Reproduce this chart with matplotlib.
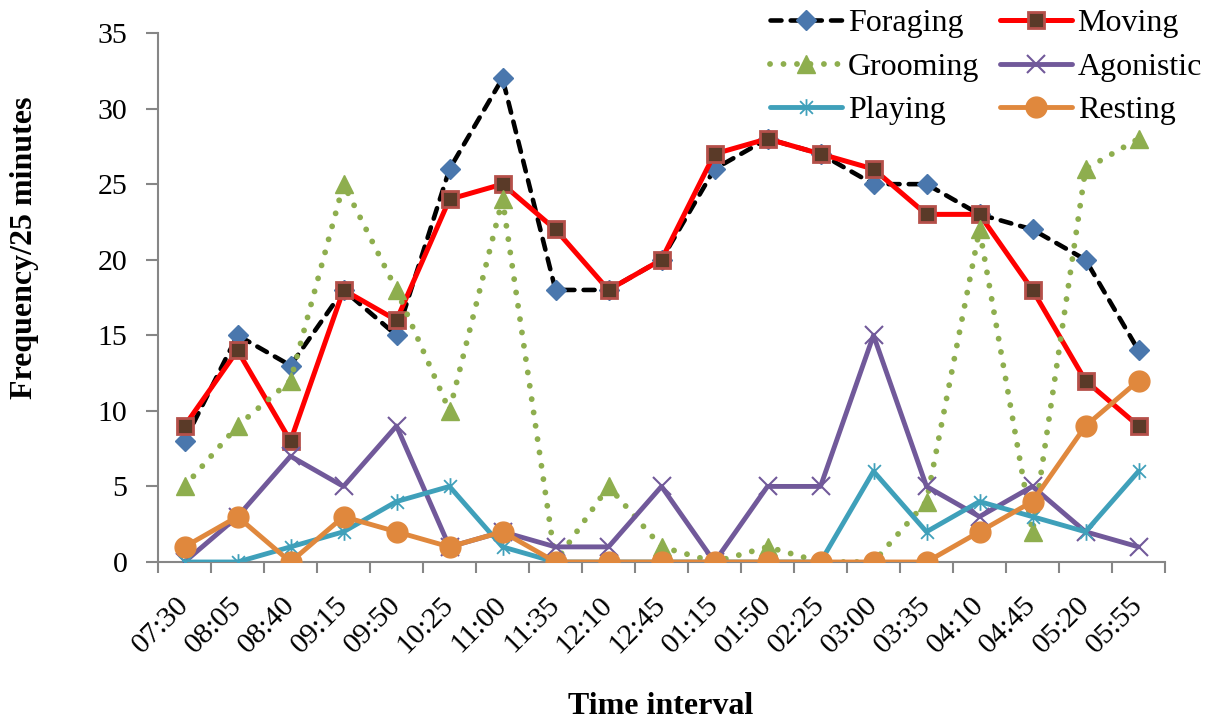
import matplotlib
matplotlib.use("Agg")
import matplotlib.pyplot as plt
from matplotlib.path import Path
from matplotlib.ticker import FixedLocator
from matplotlib.transforms import ScaledTranslation

times = ["07:30", "08:05", "08:40", "09:15", "09:50", "10:25", "11:00", "11:35", "12:10",
         "12:45", "01:15", "01:50", "02:25", "03:00", "03:35", "04:10", "04:45", "05:20", "05:55"]
foraging = [8, 15, 13, 18, 15, 26, 32, 18, 18, 20, 26, 28, 27, 25, 25, 23, 22, 20, 14]
moving = [9, 14, 8, 18, 16, 24, 25, 22, 18, 20, 27, 28, 27, 26, 23, 23, 18, 12, 9]
grooming = [5, 9, 12, 25, 18, 10, 24, 0, 5, 1, 0, 1, 0, 0, 4, 22, 2, 26, 28]
agonistic = [0, 3, 7, 5, 9, 1, 2, 1, 1, 5, 0, 5, 5, 15, 5, 3, 5, 2, 1]
playing = [0, 0, 1, 2, 4, 5, 1, 0, 0, 0, 0, 0, 0, 6, 2, 4, 3, 2, 6]
resting = [1, 3, 0, 3, 2, 1, 2, 0, 0, 0, 0, 0, 0, 0, 0, 2, 4, 9, 12]
yticks = [0, 5, 10, 15, 20, 25, 30, 35]

plt.rcParams['font.family'] = ['Liberation Serif', 'DejaVu Serif']
FS_TICK = 21.5
FS_LEG = 23
FS_LAB = 23

fig = plt.figure(figsize=(12.11, 7.21), dpi=100)
ax = fig.add_axes([158 / 1211, 1 - 562 / 721, (1165 - 158) / 1211, (562 - 33) / 721])

x = list(range(len(times)))

star = Path([(-1, -1), (1, 1), (-1, 1), (1, -1), (0, -1.3), (0, 1.3)],
            [Path.MOVETO, Path.LINETO, Path.MOVETO, Path.LINETO, Path.MOVETO, Path.LINETO])

blue = '#4A77AD'
green = '#8EAE4E'
purple = '#71599A'
teal = '#3FA0BA'
orange = '#E0883D'

l_for, = ax.plot(x, foraging, color='black', lw=3.3, marker='D', ms=10.5, mfc=blue, mec=blue,
                 dashes=(2.4, 2.0), dash_capstyle='round', label='Foraging', zorder=3)
l_mov, = ax.plot(x, moving, color='#FF0000', lw=3.6, marker='s', ms=11, mfc='#5A3A28', mec='#B5504A',
                 mew=2, label='Moving', zorder=4, solid_capstyle='round')
l_groom, = ax.plot(x, grooming, color=green, lw=4.2, marker='^', ms=13, mfc=green, mec=green,
                   dashes=(0.01, 2.3), dash_capstyle='round', label='Grooming', zorder=5)
l_ago, = ax.plot(x, agonistic, color=purple, lw=3.5, marker='x', ms=13, mec=purple, mew=1.5,
                 label='Agonistic', zorder=6, solid_capstyle='round')
l_play, = ax.plot(x, playing, color=teal, lw=3.5, marker=star, ms=12, mfc='none', mec=teal, mew=1.3,
                  label='Playing', zorder=7, solid_capstyle='round')
l_rest, = ax.plot(x, resting, color=orange, lw=3.5, marker='o', ms=15, mfc=orange, mec=orange,
                  label='Resting', zorder=8, solid_capstyle='round')

ax.set_xlim(-0.5, len(times) - 0.5)
ax.set_ylim(0, 35)
ax.set_yticks(yticks)
ax.set_xticks(x)
ax.set_xticklabels(times, rotation=45, ha='right', va='center', rotation_mode='anchor', fontsize=FS_TICK)
off = ScaledTranslation(5 / 100, 0, fig.dpi_scale_trans)
for lbl in ax.get_xticklabels():
    lbl.set_transform(lbl.get_transform() + off)
ax.xaxis.set_minor_locator(FixedLocator([i - 0.5 for i in range(len(times) + 1)]))
ax.tick_params(axis='x', which='major', length=0, pad=28)
ax.tick_params(axis='x', which='minor', length=8, width=1.5, color='#868686', direction='out')
ax.tick_params(axis='y', length=9, width=1.5, color='#868686', direction='out', labelsize=FS_TICK, pad=13)

for s in ['top', 'right']:
    ax.spines[s].set_visible(False)
for s in ['left', 'bottom']:
    ax.spines[s].set_color('#868686')
    ax.spines[s].set_linewidth(1.5)

fig.text(661 / 1211, 1 - 707 / 721, 'Time interval', ha='center', va='center',
         fontsize=FS_LAB, fontweight='bold')
fig.text(25 / 1211, 1 - 248 / 721, 'Frequency/25 minutes', ha='center', va='center',
         rotation=90, fontsize=FS_LAB, fontweight='bold')

leg = ax.legend(handles=[l_for, l_groom, l_play, l_mov, l_ago, l_rest], ncol=2, frameon=False,
                fontsize=FS_LEG, loc='upper right', bbox_to_anchor=(1202 / 1211, 1 - 9 / 721),
                bbox_transform=fig.transFigure, handlelength=2.25, handletextpad=0.18,
                columnspacing=0.65, labelspacing=0.44, borderpad=0, borderaxespad=0)

fig.savefig('out.png', dpi=100)
